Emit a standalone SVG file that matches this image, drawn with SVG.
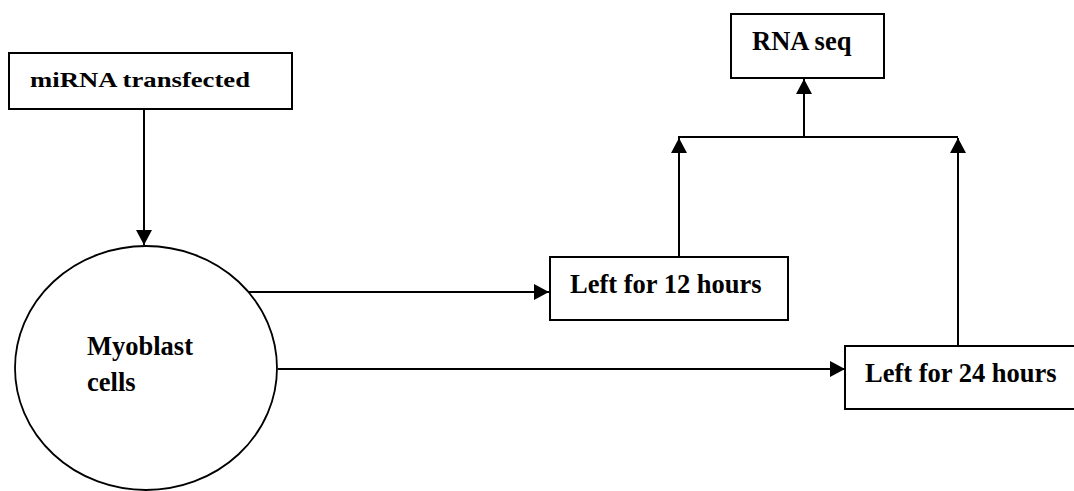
<svg xmlns="http://www.w3.org/2000/svg" width="1074" height="491" viewBox="0 0 1074 491">
  <style>
    .box { fill: #fff; stroke: #000; stroke-width: 2; }
    .node-shape { fill: #fff; stroke: #000; stroke-width: 1.8; }
    .lbl { font-family: "Liberation Serif", "Times New Roman", serif; font-weight: bold; font-size: 26.5px; fill: #000; }
    .conn { fill: none; stroke: #000; stroke-width: 2; }
  </style>
  <defs>
    <marker id="arrow" markerUnits="userSpaceOnUse" markerWidth="16" markerHeight="16" viewBox="0 0 15 16" refX="15" refY="8" orient="auto">
      <path d="M0,0 L15,8 L0,16 Z" fill="#000"/>
    </marker>
  </defs>
  <rect width="1074" height="491" fill="#fff"/>

  <g id="connectors">
    <line class="conn" x1="144" y1="109" x2="144" y2="245" marker-end="url(#arrow)"/>
    <line class="conn" x1="247" y1="292" x2="549" y2="292" marker-end="url(#arrow)"/>
    <line class="conn" x1="278" y1="369" x2="845" y2="369" marker-end="url(#arrow)"/>
    <line class="conn" x1="679" y1="257" x2="679" y2="138" marker-end="url(#arrow)"/>
    <line class="conn" x1="958" y1="346" x2="958" y2="138" marker-end="url(#arrow)"/>
    <line class="conn" x1="678" y1="137" x2="958" y2="137"/>
    <line class="conn" x1="804" y1="137" x2="804" y2="79" marker-end="url(#arrow)"/>
  </g>

  <g id="node-mirna">
    <rect class="box" x="9" y="53" width="283" height="56"/>
    <text class="lbl" x="30" y="87" style="font-size:22px" textLength="220" lengthAdjust="spacingAndGlyphs">miRNA transfected</text>
  </g>

  <g id="node-myoblast">
    <ellipse class="node-shape" cx="146" cy="368" rx="131" ry="122"/>
    <text class="lbl" x="87" y="355">Myoblast</text>
    <text class="lbl" x="87" y="391">cells</text>
  </g>

  <g id="node-12h">
    <rect class="box" x="550" y="257" width="238" height="63"/>
    <text class="lbl" x="570" y="293">Left for 12 hours</text>
  </g>

  <g id="node-24h">
    <rect class="box" x="845" y="346" width="240" height="63"/>
    <text class="lbl" x="865" y="382">Left for 24 hours</text>
  </g>

  <g id="node-rnaseq">
    <rect class="box" x="731" y="14" width="153" height="64"/>
    <text class="lbl" x="752" y="50">RNA seq</text>
  </g>
</svg>
